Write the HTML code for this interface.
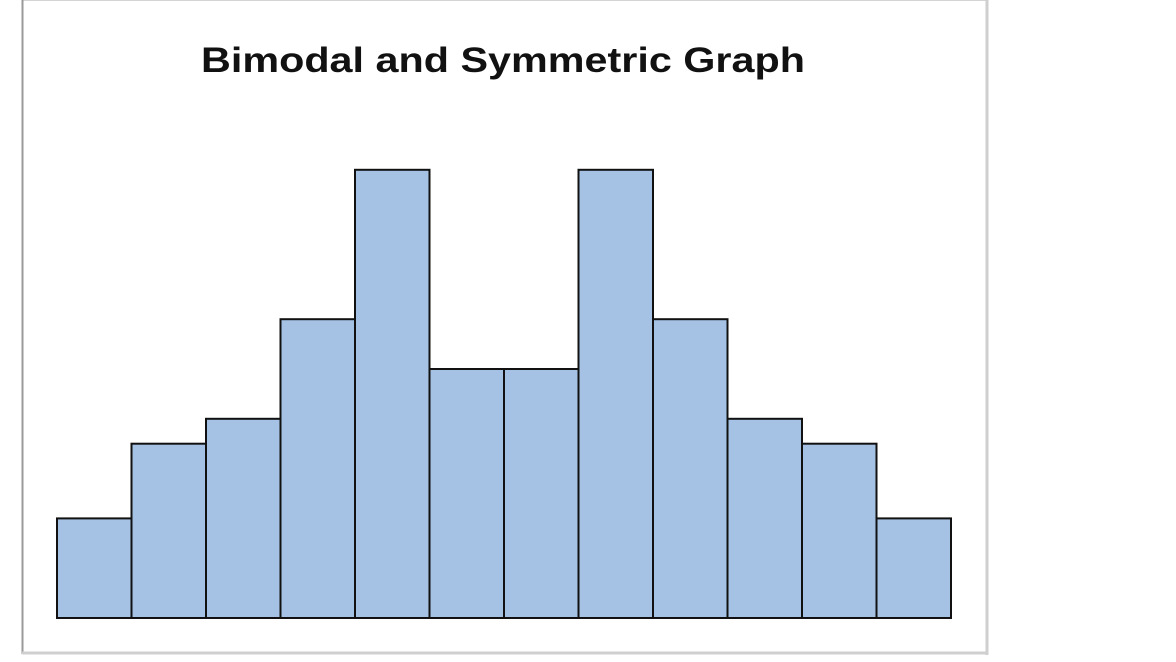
<!DOCTYPE html>
<html><head><meta charset="utf-8"><style>
html,body{margin:0;padding:0;background:#fff;width:1176px;height:662px;overflow:hidden}
svg{display:block}
</style></head><body>
<svg id="chart" width="1176" height="662">
<rect x="22.5" y="0.5" width="964" height="652" fill="#fff" stroke="#d4d4d4" stroke-width="1"/>
<line x1="22.5" y1="0" x2="22.5" y2="654" stroke="#9a9a9a" stroke-width="2"/>
<line x1="987" y1="0" x2="987" y2="655" stroke="#cfcfcf" stroke-width="3"/>
<line x1="22" y1="653" x2="988" y2="653" stroke="#cfcfcf" stroke-width="3"/>
<text x="503" y="72" text-anchor="middle" font-family="Liberation Sans, sans-serif" font-weight="bold" font-size="35" textLength="604" lengthAdjust="spacingAndGlyphs" fill="#111">Bimodal and Symmetric Graph</text>
<g id="bars"></g>
</svg>
<script>
const categories = [1,2,3,4,5,6,7,8,9,10,11,12];
const values = [4,7,8,12,18,10,10,18,12,8,7,4];
const x0 = 57, x1 = 951, baseY = 618, unit = 24.9;
const bw = (x1 - x0) / categories.length;
const xScale = i => x0 + i * bw;
const yScale = v => baseY - v * unit;
const g = document.getElementById('bars');
const ns = 'http://www.w3.org/2000/svg';
values.forEach((v, i) => {
  const r = document.createElementNS(ns, 'rect');
  r.setAttribute('x', xScale(i));
  r.setAttribute('y', yScale(v));
  r.setAttribute('width', bw);
  r.setAttribute('height', baseY - yScale(v));
  r.setAttribute('fill', '#a5c2e4');
  r.setAttribute('stroke', '#111');
  r.setAttribute('stroke-width', '2');
  
  
  g.appendChild(r);
});
</script>
</body></html>
